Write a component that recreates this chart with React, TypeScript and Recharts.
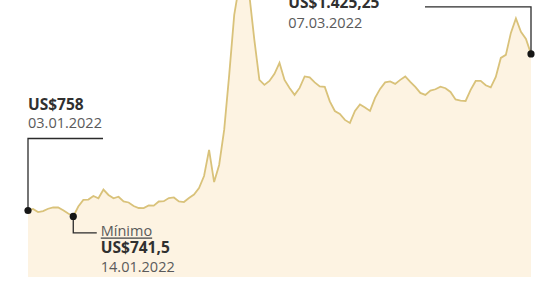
import React from "react";
import { AreaChart, Area, XAxis, YAxis, ReferenceDot } from "recharts";

// Wheat price (US cents / bushel), daily, 03.01.2022 onward
const prices: number[] = [
  758, 762.25, 753.75, 756.5, 763, 766.75, 766.5, 758.5, 749.5, 741.5,
  769.25, 787.5, 788.75, 798.5, 792.25, 816.75, 801.5, 792.25, 796.5, 783.25,
  780.5, 770.5, 765, 764.75, 772, 771.5, 783.25, 784, 793, 794.5,
  783.25, 781.75, 793, 802.75, 821, 854.5, 927.5, 837.75, 885.5, 983.5,
  1137.5, 1305.5, 1389.5, 1425.25, 1361.5, 1235.5, 1123.5, 1109.5, 1120.5, 1140.25,
  1171, 1123.5, 1101, 1081.5, 1101, 1133.25, 1130.5, 1116.5, 1105.25, 1103.75,
  1063.25, 1036.5, 1028.25, 1011.5, 1003, 1036.5, 1054.75, 1046.5, 1036.75, 1073,
  1098.25, 1116.5, 1119.25, 1112.25, 1123.5, 1133.25, 1117.75, 1103.75, 1087, 1081.5,
  1093.5, 1097.25, 1104.5, 1100.25, 1089.75, 1068.75, 1065.5, 1064.5, 1095.5, 1120.5,
  1120.75, 1108.5, 1102.5, 1131.75, 1185, 1193.5, 1255, 1295.5, 1257.75, 1238.25,
  1196.25,
];

const startLabel = { price: "US$758", date: "03.01.2022" };
const minLabel = { title: "Mínimo", price: "US$741,5", date: "14.01.2022" };
const maxLabel = { price: "US$1.425,25", date: "07.03.2022" };

const data = prices.map((price, day) => ({ day, price }));
const lastIdx = prices.length - 1;
const minIdx = prices.indexOf(Math.min(...prices));
const maxIdx = prices.indexOf(Math.max(...prices));

const FONT = "'Open Sans', 'Noto Sans', sans-serif";
const INK = "#2b2b2b";
const GREY = "#5a5a5a";
const BOLD = "#303030";

const StartShape = (p: any) => {
  const { cx, cy } = p;
  return (
    <g>
      <polyline points={`${cx},${cy} ${cx},${cy - 72} ${cx + 75},${cy - 72}`} fill="none" stroke={INK} strokeWidth={1.3} />
      <circle cx={cx} cy={cy} r={3.6} fill="#161616" />
      <text x={cx} y={cy - 101} fontFamily={FONT} fontSize={15.5} fontWeight={700} fill={BOLD}>{startLabel.price}</text>
      <text x={cx} y={cy - 83} fontFamily={FONT} fontSize={14.5} fill={GREY}>{startLabel.date}</text>
    </g>
  );
};

const MinShape = (p: any) => {
  const { cx, cy } = p;
  return (
    <g>
      <polyline points={`${cx},${cy} ${cx},${cy + 16.5} ${cx + 23.5},${cy + 16.5}`} fill="none" stroke={INK} strokeWidth={1.3} />
      <circle cx={cx} cy={cy} r={3.6} fill="#161616" />
      <text x={cx + 27.5} y={cy + 20} fontFamily={FONT} fontSize={14.5} fill={GREY} textDecoration="underline">{minLabel.title}</text>
      <text x={cx + 27.5} y={cy + 36.5} fontFamily={FONT} fontSize={15.5} fontWeight={700} fill={BOLD}>{minLabel.price}</text>
      <text x={cx + 27.5} y={cy + 55.5} fontFamily={FONT} fontSize={14.5} fill={GREY}>{minLabel.date}</text>
    </g>
  );
};

const MaxShape = (p: any) => {
  const { cx, cy } = p;
  return (
    <g>
      <text x={cx + 44} y={cy + 36.3} fontFamily={FONT} fontSize={15.5} fontWeight={700} fill={BOLD}>{maxLabel.price}</text>
      <text x={cx + 44} y={cy + 55.5} fontFamily={FONT} fontSize={14.5} fill={GREY}>{maxLabel.date}</text>
    </g>
  );
};

const LastShape = (p: any) => {
  const { cx, cy } = p;
  return (
    <g>
      <polyline points={`${cx},${cy} ${cx},${cy - 47} ${cx - 106},${cy - 47}`} fill="none" stroke={INK} strokeWidth={1.3} />
      <circle cx={cx} cy={cy} r={3.6} fill="#161616" />
    </g>
  );
};

export default function App() {
  return (
    <div style={{ position: "absolute", left: 0, top: 0, width: 544, height: 282, background: "#fff" }}>
      <AreaChart width={544} height={282} data={data} margin={{ top: 0, right: 13, bottom: 5, left: 28 }}>
        <XAxis dataKey="day" type="number" domain={[0, lastIdx]} hide />
        <YAxis type="number" domain={[572, 1347]} allowDataOverflow hide />
        <Area
          type="linear"
          dataKey="price"
          stroke="#d9c27a"
          strokeWidth={1.8}
          fill="#fdf3e2"
          fillOpacity={1}
          isAnimationActive={false}
          dot={false}
          activeDot={false}
        />
        <ReferenceDot x={0} y={prices[0]} ifOverflow="visible" shape={StartShape} />
        <ReferenceDot x={minIdx} y={prices[minIdx]} ifOverflow="visible" shape={MinShape} />
        <ReferenceDot x={maxIdx} y={prices[maxIdx]} ifOverflow="visible" shape={MaxShape} />
        <ReferenceDot x={lastIdx} y={prices[lastIdx]} ifOverflow="visible" shape={LastShape} />
      </AreaChart>
    </div>
  );
}
